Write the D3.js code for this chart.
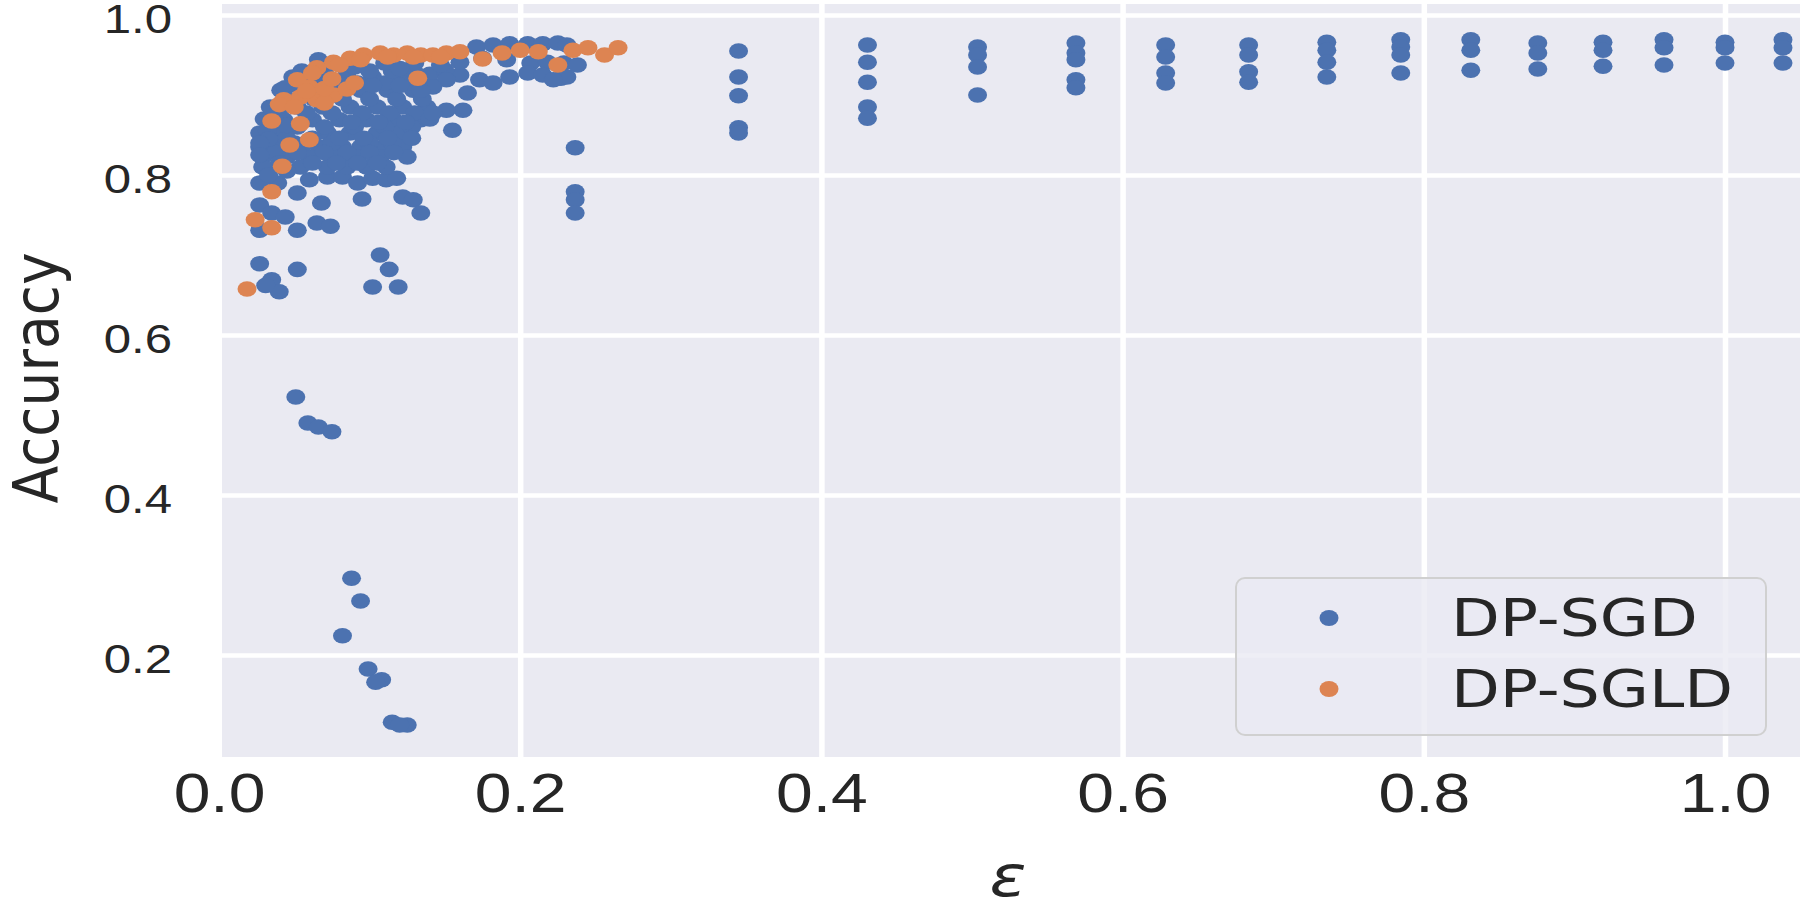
<!DOCTYPE html>
<html>
<head>
<meta charset="utf-8">
<title>Accuracy vs epsilon</title>
<script src="https://d3js.org/d3.v7.min.js"></script>
<style>
  body { margin: 0; background: #fff; }
  svg { display: block; font-family: "DejaVu Sans", sans-serif; }
</style>
</head>
<body>
<svg id="chart" width="1800" height="898"></svg>
<script>
  // series + ticks
  var seriesNames = ['DP-SGD', 'DP-SGLD'];
  var seriesColors = ['#4c72b0', '#dd8452'];
  var xTicks = [0.0, 0.2, 0.4, 0.6, 0.8, 1.0];
  var yTicks = [0.2, 0.4, 0.6, 0.8, 1.0];

  // [epsilon, accuracy]
  var dpSgd = [
    [.027,.689],[.052,.682],[.035,.669],[.040,.654],[.031,.662],[.107,.700],[.113,.682],[.102,.660],[.119,.660],
    [.027,.7625],[.035,.7525],[.044,.7475],[.027,.731],[.052,.731],[.065,.740],[.074,.736],[.068,.765],[.095,.770],
    [.122,.7725],[.129,.769],[.134,.7525],
    [.027,.790],[.039,.790],[.052,.7775],[.060,.794],[.072,.7975],[.082,.7975],[.092,.790],[.102,.796],[.111,.794],[.118,.796],
    [.049,.9225],[.067,.9225],[.085,.9225],[.102,.9225],[.120,.9225],
    [.041,.906],[.060,.906],[.078,.906],[.094,.906],[.112,.906],[.129,.906],
    [.034,.885],[.052,.885],[.069,.885],[.087,.885],[.105,.885],[.122,.885],[.138,.885],
    [.043,.869],[.062,.869],[.080,.869],[.098,.869],[.116,.869],[.134,.869],
    [.027,.8525],[.039,.8525],[.072,.8525],[.087,.8525],[.105,.8525],[.120,.8525],
    [.027,.835],[.067,.835],[.082,.835],[.094,.835],[.109,.835],[.122,.835],
    [.029,.8225],[.045,.8225],[.060,.8225],[.076,.8225],[.092,.8225],[.107,.8225],[.125,.8225],
    [.054,.810],[.072,.810],[.085,.810],[.098,.810],[.111,.810],
    [.045,.895],[.063,.895],[.082,.895],[.100,.895],[.118,.895],[.135,.895],
    [.052,.860],[.070,.860],[.090,.860],[.110,.860],[.128,.860],
    [.036,.840],[.050,.840],[.058,.840],[.075,.840],[.100,.840],[.115,.840],
    [.058,.915],[.075,.915],[.092,.915],[.110,.915],[.128,.915],[.140,.915],
    [.055,.930],[.070,.930],[.085,.930],[.115,.930],[.130,.928],
    [.040,.8775],[.058,.8775],[.075,.8775],[.095,.8775],[.113,.8775],[.130,.8775],
    [.045,.846],[.062,.846],[.080,.846],[.096,.846],[.112,.846],[.128,.846],
    [.038,.828],[.052,.828],[.070,.828],[.085,.828],[.100,.828],[.116,.828],
    [.040,.815],[.062,.815],[.078,.815],[.092,.815],[.105,.815],
    [.035,.865],[.045,.862],[.088,.866],[.106,.866],[.124,.866],[.140,.870],
    [.050,.913],[.068,.912],[.085,.912],[.102,.912],[.120,.912],[.135,.910],
    [.030,.870],[.032,.855],[.033,.845],[.029,.810],[.033,.800],[.045,.805],
    [.066,.944],[.044,.909],[.035,.884],[.027,.840],[.027,.825],
    [.090,.935],[.110,.940],[.130,.940],[.100,.930],[.120,.933],[.140,.926],[.160,.925],[.150,.931],
    [.171,.960],[.182,.9625],[.193,.964],[.205,.964],[.215,.964],[.225,.965],[.231,.9625],
    [.147,.9375],[.160,.941],[.175,.946],[.191,.944],[.207,.940],[.218,.941],[.229,.940],[.238,.9375],
    [.165,.9025],[.173,.919],[.182,.915],[.193,.9225],[.205,.9275],[.215,.925],[.227,.921],[.231,.9225],[.222,.919],
    [.151,.919],[.142,.910],[.134,.906],[.155,.856],[.162,.881],[.151,.881],[.142,.8775],
    [.2365,.834],[.2365,.779],[.2365,.769],[.2365,.7525],
    [.345,.955],[.345,.9225],[.345,.899],[.345,.859],[.345,.8525],
    [.4306,.9625],[.4306,.941],[.4306,.916],[.4306,.885],[.4306,.871],
    [.5037,.960],[.5037,.950],[.5037,.935],[.5037,.900],
    [.569,.965],[.569,.9525],[.569,.944],[.569,.919],[.569,.909],
    [.6286,.9625],[.6286,.9475],[.6286,.9275],[.6286,.915],
    [.6837,.9625],[.6837,.950],[.6837,.929],[.6837,.916],
    [.7356,.966],[.7356,.956],[.7356,.941],[.7356,.9225],
    [.7847,.969],[.7847,.960],[.7847,.950],[.7847,.9275],
    [.8312,.969],[.8312,.956],[.8312,.931],
    [.8757,.965],[.8757,.9525],[.8757,.9325],
    [.919,.966],[.919,.956],[.919,.936],
    [.9595,.969],[.9595,.959],[.9595,.9375],
    [1.0,.966],[1.0,.959],[1.0,.940],
    [1.0385,.969],[1.0385,.959],[1.0385,.940],
    [.051,.5225],[.059,.490],[.066,.485],[.075,.479],
    [.088,.296],[.094,.2675],[.082,.224],
    [.099,.1825],[.108,.169],[.104,.166],
    [.115,.116],[.125,.1125],[.120,.1125]
  ];

  var dpSgld = [
    [.0186,.6575],[.024,.744],[.035,.734],[.035,.779],[.042,.811],[.047,.8375],[.060,.844],[.054,.864],[.035,.8675],
    [.043,.894],[.054,.8975],[.065,.894],[.076,.900],[.085,.9075],[.060,.910],[.052,.919],
    [.040,.888],[.050,.885],[.070,.890],[.058,.905],[.070,.908],[.090,.915],[.075,.920],
    [.065,.934],[.076,.941],[.087,.946],[.096,.950],[.107,.9525],[.116,.950],[.125,.9525],[.134,.950],[.142,.950],
    [.151,.9525],[.160,.954],[.062,.9275],[.080,.9375],[.094,.944],[.112,.9475],[.129,.9475],[.147,.9475],
    [.132,.921],
    [.175,.945],[.188,.9525],[.200,.956],[.212,.954],[.225,.9375],[.235,.956],[.245,.959],[.256,.950],[.265,.959]
  ];

  var plot = {left: 222, right: 1800, top: 4, bottom: 757},
      sx = 1.2,   // picture is stretched sideways
      ink = '#262626';

  var x = d3.scaleLinear().domain([0, 1]).range([219, 1725]);
  var y = d3.scaleLinear().domain([0.2, 1]).range([655, 15]);

  var svg = d3.select('#chart');

  svg.append('rect')
      .attr('x', plot.left).attr('y', plot.top)
      .attr('width', plot.right - plot.left).attr('height', plot.bottom - plot.top)
      .attr('fill', '#eaeaf2');

  svg.append('clipPath').attr('id', 'clip')
    .append('rect')
      .attr('x', plot.left).attr('y', plot.top)
      .attr('width', plot.right - plot.left).attr('height', plot.bottom - plot.top);

  // x axis + vertical grid
  var xAxis = svg.append('g')
      .attr('transform', 'translate(0,' + plot.bottom + ')')
      .call(d3.axisBottom(x).tickValues(xTicks).tickFormat(d3.format('.1f'))
        .tickSize(-(plot.bottom - plot.top)).tickPadding(0));
  xAxis.select('.domain').remove();
  xAxis.selectAll('line')
      .attr('stroke', '#fff').attr('stroke-width', 5.5)
      .attr('opacity', function(d) { return x(d) < plot.left ? 0 : 1; });
  xAxis.selectAll('text')
      .attr('y', 55).attr('dy', 0)
      .attr('fill', ink)
      .attr('font-size', 55)
      .attr('transform', 'scale(' + sx + ',1)');

  // y axis + horizontal grid
  var yAxis = svg.append('g')
      .attr('transform', 'translate(' + plot.left + ',0)')
      .call(d3.axisLeft(y).tickValues(yTicks).tickFormat(d3.format('.1f'))
        .tickSize(-(plot.right - plot.left)).tickPadding(0));
  yAxis.select('.domain').remove();
  yAxis.selectAll('line').attr('stroke', '#fff').attr('stroke-width', 4.5);
  yAxis.selectAll('text')
      .attr('x', -50 / sx).attr('dy', 0).attr('y', 17)
      .attr('fill', ink)
      .attr('font-size', 41)
      .attr('transform', 'scale(' + sx + ',1)');

  // points
  var pts = svg.append('g').attr('clip-path', 'url(#clip)');
  [dpSgd, dpSgld].forEach(function(series, i) {
    pts.append('g')
      .selectAll('ellipse')
      .data(series)
      .enter().append('ellipse')
        .attr('cx', function(d) { return x(d[0]); })
        .attr('cy', function(d) { return y(d[1]); })
        .attr('rx', 9.5)
        .attr('ry', 7.8)
        .attr('fill', seriesColors[i]);
  });

  // axis titles
  svg.append('text')
      .attr('transform', 'translate(58,378) rotate(-90) scale(1,1.12)')
      .attr('text-anchor', 'middle')
      .attr('font-size', 55)
      .attr('fill', ink)
      .text('Accuracy');

  svg.append('text')
      .attr('transform', 'translate(1008,896) scale(' + sx + ',1)')
      .attr('text-anchor', 'middle')
      .attr('font-size', 57)
      .attr('font-style', 'italic')
      .attr('fill', ink)
      .text('ε');

  // legend
  var legend = svg.append('g');
  legend.append('rect')
      .attr('x', 1236).attr('y', 578)
      .attr('width', 530).attr('height', 157)
      .attr('rx', 9)
      .attr('fill', '#eaeaf2').attr('fill-opacity', 0.8)
      .attr('stroke', '#d0d0d0').attr('stroke-width', 2);

  var item = legend.selectAll('g.item')
      .data(seriesNames)
      .enter().append('g')
        .attr('class', 'item')
        .attr('transform', function(d, i) { return 'translate(0,' + (618 + i * 71) + ')'; });
  item.append('ellipse')
      .attr('cx', 1329).attr('cy', 0)
      .attr('rx', 9.5).attr('ry', 8)
      .attr('fill', function(d, i) { return seriesColors[i]; });
  item.append('text')
      .attr('transform', 'translate(1451,18) scale(1.22,1)')
      .attr('font-size', 52)
      .attr('fill', ink)
      .text(function(d) { return d; });
</script>
</body>
</html>
